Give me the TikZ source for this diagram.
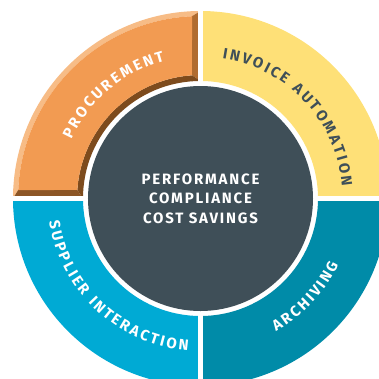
\documentclass[tikz,border=0pt]{standalone}
\usepackage{fontspec}
\usepackage{tikz}
\usetikzlibrary{decorations.text}
\RequirePackage{xcolor}
\newfontfamily\dinfont[LetterSpace=12]{Fira Sans}
\newfontfamily\dinplain{Fira Sans}
\definecolor{coreGrey}{HTML}{3F4F58}
\definecolor{procFace}{HTML}{F29B52}
\definecolor{procLight}{HTML}{F7BC86}
\definecolor{procMid}{HTML}{B06C30}
\definecolor{procDark}{HTML}{7D4B1D}
\definecolor{procLow}{HTML}{8C5525}
\definecolor{invYellow}{HTML}{FEE077}
\definecolor{supBlue}{HTML}{00AAD4}
\definecolor{arcTeal}{HTML}{008BA8}
\newcommand{\ringfont}{\fontsize{15}{17}\dinplain\bfseries}
\tikzset{
  ringtext/.style 2 args={decorate, decoration={text effects along path,
    text={#2}, text align=center, text effects/.cd, text along path,
    characters={text=#1, font=\ringfont, anchor=base},
    character widths={font=\ringfont, inner xsep=1.2pt}}}
}

\begin{document}
\begin{tikzpicture}[x=1pt, y=1pt]
	  \clip (-200.5,-179.5) rectangle (178.5,198.5);
	  % plain quarters
	  \foreach \a/\col in {0/invYellow, 180/supBlue, 270/arcTeal}
	    \fill[\col] (\a:187.5pt) arc[start angle=\a, delta angle=90, radius=187.5pt]
	      -- ({\a+90}:117.5pt) arc[start angle={\a+90}, delta angle=-90, radius=117.5pt] -- cycle;
	  % bevelled quarter
	  \fill[procLight] (90:187.5pt) arc[start angle=90, end angle=180, radius=187.5pt]
	    -- (177.33:182.5pt) arc[start angle=177.33, end angle=92.67, radius=182.5pt] -- cycle;
	  \fill[procMid] (0,187.5) -- (0,117.5) -- (-8.5,123.2) -- (-8.5,182.3) -- cycle;
	  \fill[procDark] (90:117.5pt) arc[start angle=90, end angle=180, radius=117.5pt]
	    -- (176.05:123.5pt) arc[start angle=176.05, end angle=93.95, radius=123.5pt] -- cycle;
	  \fill[procLow] (-117.5,0) -- (-187.5,0) -- (-182.3,8.5) -- (-123.2,8.5) -- cycle;
	  \fill[procFace] (92.67:182.5pt) arc[start angle=92.67, end angle=177.33, radius=182.5pt]
	    -- (176.05:123.5pt) arc[start angle=176.05, end angle=93.95, radius=123.5pt] -- cycle;
	  % gaps
	  \draw[white, line width=5.5pt] (-205,0) -- (185,0) (0,-185) -- (0,205);
	  \fill[coreGrey] (0,0) circle[radius=112.5pt];
	  \node[align=center, text=white, font=\fontsize{15}{19.7}\dinfont\bfseries] (core) at (0,0)
	    {PERFORMANCE\\COMPLIANCE\\COST SAVINGS};
	  % ring labels
	  \path[ringtext={white}{PROCUREMENT}]
	    (175:142pt) arc[start angle=175, end angle=85, radius=142pt];
	  \path[ringtext={coreGrey}{INVOICE AUTOMATION}]
	    (88:142pt) arc[start angle=88, end angle=-2, radius=142pt];
	  \path[ringtext={white}{SUPPLIER INTERACTION}]
	    (182:153pt) arc[start angle=182, end angle=272, radius=153pt];
	  \path[ringtext={white}{ARCHIVING}]
	    (272:153pt) arc[start angle=272, end angle=362, radius=153pt];
	\end{tikzpicture}
\end{document}
